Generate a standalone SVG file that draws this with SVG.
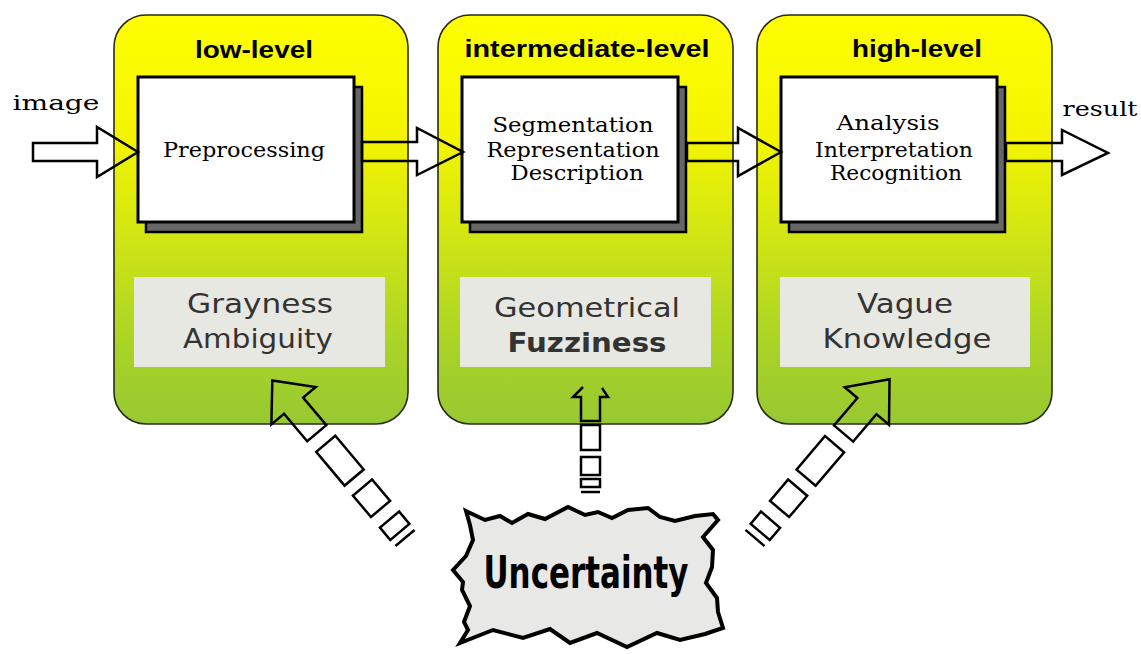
<svg xmlns="http://www.w3.org/2000/svg" width="1141" height="654" viewBox="0 0 1141 654">
  <defs>
    <linearGradient id="panelGrad" x1="0" y1="0" x2="0" y2="1">
      <stop offset="0" stop-color="#ffff00"/>
      <stop offset="0.3" stop-color="#f4f400"/>
      <stop offset="0.55" stop-color="#cfe514"/>
      <stop offset="0.8" stop-color="#aad426"/>
      <stop offset="1" stop-color="#98c832"/>
    </linearGradient>
    <style>
      .panel { fill: url(#panelGrad); stroke: #2a2a1a; stroke-width: 1.6; }
      .shadow { fill: #666; stroke: #000; stroke-width: 2.5; }
      .box { fill: #fff; stroke: #000; stroke-width: 3; }
      .gray { fill: #e8e8e2; }
      .level { font-family: "Liberation Sans", Arial, sans-serif; font-weight: bold; font-size: 23px; fill: #000; text-anchor: middle; }
      .serif { font-family: "DejaVu Serif", "Liberation Serif", serif; font-size: 21px; fill: #000; text-anchor: middle; }
      .amb { font-family: "DejaVu Sans", Verdana, sans-serif; font-size: 27px; fill: #333; text-anchor: middle; }
      .arrow { fill: none; stroke: #000; stroke-width: 2.5; stroke-linejoin: miter; }
      .unc { font-family: "DejaVu Sans Condensed", "DejaVu Sans", sans-serif; font-stretch: condensed; font-weight: bold; font-size: 44px; fill: #000; text-anchor: middle; }
    </style>
  </defs>
  <rect x="0" y="0" width="1141" height="654" fill="#fff"/>

  <g id="low-level">
    <rect class="panel" x="114" y="15" width="294" height="409" rx="32" ry="32"/>
    <text class="level" x="254" y="58" textLength="118" lengthAdjust="spacingAndGlyphs">low-level</text>
    <rect class="shadow" x="146" y="87" width="216" height="145"/>
    <rect class="box" x="138" y="77" width="216" height="145"/>
    <text class="serif" x="244" y="157" textLength="162" lengthAdjust="spacingAndGlyphs">Preprocessing</text>
    <rect class="gray" x="134" y="277" width="251" height="90"/>
    <text class="amb" x="260" y="313" textLength="146" lengthAdjust="spacingAndGlyphs">Grayness</text>
    <text class="amb" x="258" y="348" textLength="150" lengthAdjust="spacingAndGlyphs">Ambiguity</text>
  </g>

  <g id="intermediate-level">
    <rect class="panel" x="438" y="15" width="295" height="409" rx="32" ry="32"/>
    <text class="level" x="587" y="57" textLength="245" lengthAdjust="spacingAndGlyphs">intermediate-level</text>
    <rect class="shadow" x="470" y="87" width="216" height="145"/>
    <rect class="box" x="462" y="77" width="216" height="145"/>
    <text class="serif" x="573" y="132" textLength="161" lengthAdjust="spacingAndGlyphs">Segmentation</text>
    <text class="serif" x="573" y="157" textLength="173" lengthAdjust="spacingAndGlyphs">Representation</text>
    <text class="serif" x="577" y="180" textLength="133" lengthAdjust="spacingAndGlyphs">Description</text>
    <rect class="gray" x="460" y="277" width="251" height="90"/>
    <text class="amb" x="587" y="317" textLength="186" lengthAdjust="spacingAndGlyphs">Geometrical</text>
    <text class="amb" x="587" y="352" textLength="159" lengthAdjust="spacingAndGlyphs" font-weight="bold" fill="#222">Fuzziness</text>
  </g>

  <g id="high-level">
    <rect class="panel" x="757" y="15" width="295" height="409" rx="32" ry="32"/>
    <text class="level" x="917" y="57" textLength="130" lengthAdjust="spacingAndGlyphs">high-level</text>
    <rect class="shadow" x="789" y="87" width="216" height="145"/>
    <rect class="box" x="781" y="77" width="216" height="145"/>
    <text class="serif" x="888" y="130" textLength="103" lengthAdjust="spacingAndGlyphs">Analysis</text>
    <text class="serif" x="894" y="157" textLength="158" lengthAdjust="spacingAndGlyphs">Interpretation</text>
    <text class="serif" x="896" y="180" textLength="132" lengthAdjust="spacingAndGlyphs">Recognition</text>
    <rect class="gray" x="780" y="277" width="250" height="90"/>
    <text class="amb" x="905" y="313" textLength="96" lengthAdjust="spacingAndGlyphs">Vague</text>
    <text class="amb" x="907" y="348" textLength="169" lengthAdjust="spacingAndGlyphs">Knowledge</text>
  </g>

  <g id="uncertainty">
    <path d="M466,511 L485,520 L500,516 L512,523 L528,514 L545,519 L568,507 L585,515 L598,512 L612,518 L628,510 L648,508 L660,517 L675,521 L695,516 L713,514 L718,520 L703,537 L713,550 L712,567 L706,583 L717,598 L718,612 L723,628 L705,634 L680,640 L657,633 L627,647 L597,633 L570,643 L550,629 L523,638 L493,630 L460,643 L468,630 L464,622 L470,606 L462,590 L463,582 L453,570 L466,556 L473,540 L470,525 Z" fill="#e8e8e6" stroke="#000" stroke-width="4" stroke-linejoin="miter"/>
    <text class="unc" x="586" y="588" textLength="205" lengthAdjust="spacingAndGlyphs">Uncertainty</text>
  </g>

  <g id="io-labels">
    <text class="serif" x="56" y="110" textLength="87" lengthAdjust="spacingAndGlyphs">image</text>
    <text class="serif" x="1100" y="116" textLength="75" lengthAdjust="spacingAndGlyphs">result</text>
  </g>

  <g id="connectors">
    <polygon class="arrow" points="33,143 97,143 97,127 138,152 97,177 97,161 33,161"/>
    <polygon class="arrow" points="362,142 417,142 417,128 463,152 417,175 417,161 362,161"/>
    <polygon class="arrow" points="687,143 738,143 738,128 781,152 738,176 738,161 687,161"/>
    <polygon class="arrow" points="1006,143 1062,143 1062,130 1108,153 1062,175 1062,161 1006,161"/>

    <g transform="translate(405,538) rotate(-130.1)">
      <polygon class="arrow" points="137,-12.5 173,-12.5 173,-29 206,0 173,29 173,12.5 137,12.5"/>
      <rect class="arrow" x="79" y="-12.5" width="44" height="25"/>
      <rect class="arrow" x="38" y="-12.5" width="28" height="25"/>
      <rect class="arrow" x="8" y="-12.5" width="16" height="25"/>
      <line class="arrow" x1="0" y1="-12.5" x2="0" y2="12.5"/>
    </g>

    <g transform="translate(755,538) rotate(-49.7)">
      <polygon class="arrow" points="137,-12.5 173,-12.5 173,-29 208,0 173,29 173,12.5 137,12.5"/>
      <rect class="arrow" x="79" y="-12.5" width="44" height="25"/>
      <rect class="arrow" x="38" y="-12.5" width="28" height="25"/>
      <rect class="arrow" x="8" y="-12.5" width="16" height="25"/>
      <line class="arrow" x1="0" y1="-12.5" x2="0" y2="12.5"/>
    </g>

    <g>
      <polyline class="arrow" points="583,387 573,397 581,397 581,421 600,421 600,397 608,397 602,388"/>
      <rect class="arrow" x="581" y="425" width="19" height="25"/>
      <rect class="arrow" x="581" y="457" width="19" height="18"/>
      <rect class="arrow" x="581" y="479" width="19" height="8"/>
      <line class="arrow" x1="581" y1="492" x2="600" y2="492"/>
    </g>
  </g>
</svg>
